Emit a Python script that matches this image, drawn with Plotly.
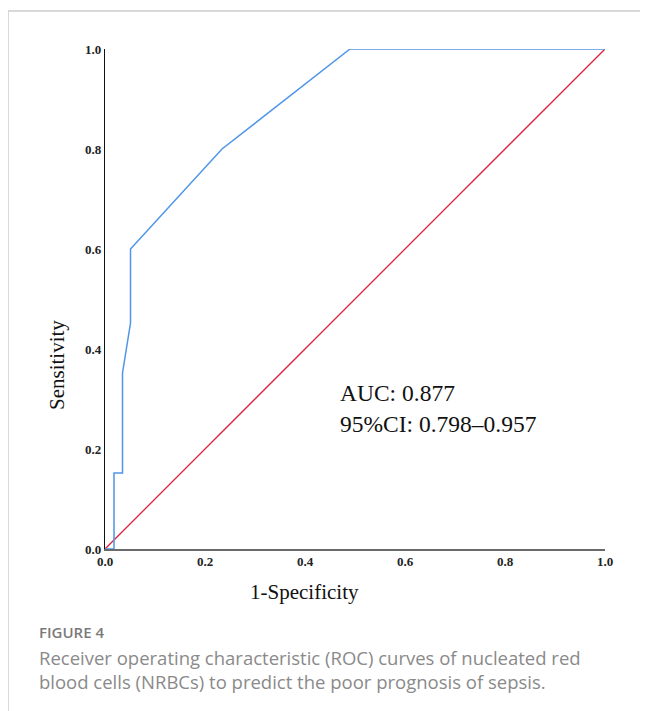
import plotly.graph_objects as go

# ROC curve data
fpr = [0.0, 0.018, 0.018, 0.035, 0.035, 0.051, 0.051, 0.234, 0.49, 1.0]
tpr = [0.0, 0.0, 0.152, 0.152, 0.352, 0.452, 0.60, 0.80, 1.0, 1.0]
ref_x = [0.0, 1.0]
ref_y = [0.0, 1.0]
tick_vals = [0.0, 0.2, 0.4, 0.6, 0.8, 1.0]
tick_text = ["0.0", "0.2", "0.4", "0.6", "0.8", "1.0"]

auc_text = "AUC: 0.877<br>95%CI: 0.798\u20130.957"
x_title = "1-Specificity"
y_title = "Sensitivity"
fig_label = "FIGURE 4"
caption_1 = "Receiver operating characteristic (ROC) curves of nucleated red"
caption_2 = "blood cells (NRBCs) to predict the poor prognosis of sepsis."

# page has an 8px body margin; work in page pixels and convert
OFF = 8
W, H = 648 - OFF, 711 - OFF
PL, PR, PT, PB = 105, 605, 49, 549          # plot area in page pixels
L, R, T, B = PL - OFF, W - (PR - OFF), PT - OFF, H - (PB - OFF)
PW, PH = PR - PL, PB - PT


def px(x):
    return (x - PL) / PW


def py(y):
    return (PB - y) / PH


fig = go.Figure()
fig.add_trace(go.Scatter(x=ref_x, y=ref_y, mode="lines",
                         line=dict(color="#e0213c", width=1.3),
                         hoverinfo="skip", showlegend=False))
fig.add_trace(go.Scatter(x=fpr, y=tpr, mode="lines",
                         line=dict(color="#4f95e8", width=1.5),
                         showlegend=False))

serif = "Liberation Serif, Times New Roman, serif"
sans = "Open Sans, Lato, sans-serif"

fig.update_layout(
    width=W, height=H,
    margin=dict(l=L, r=R, t=T, b=B),
    paper_bgcolor="white", plot_bgcolor="white",
    xaxis=dict(range=[0, 1], tickvals=tick_vals, ticktext=tick_text,
               showgrid=False, zeroline=False, showline=True,
               linecolor="#6a6a6a", linewidth=1.5, ticks="", ticklen=0,
               tickfont=dict(family=serif, size=13, color="#222", weight="bold"),
               fixedrange=True),
    yaxis=dict(range=[0, 1], tickvals=tick_vals, ticktext=tick_text,
               showgrid=False, zeroline=False, showline=True,
               linecolor="#111", linewidth=1.2, ticks="", ticklen=0,
               tickfont=dict(family=serif, size=13, color="#222", weight="bold"),
               fixedrange=True),
    annotations=[
        dict(xref="paper", yref="paper", x=px(338), y=py(408), text=auc_text,
             showarrow=False, xanchor="left", yanchor="middle", align="left",
             font=dict(family=serif, size=23.5, color="#111")),
        dict(xref="paper", yref="paper", x=px(304), y=py(592), text=x_title,
             showarrow=False, xanchor="center", yanchor="middle",
             font=dict(family=serif, size=21, color="#111")),
        dict(xref="paper", yref="paper", x=px(57), y=py(365), text=y_title,
             showarrow=False, xanchor="center", yanchor="middle", textangle=-90,
             font=dict(family=serif, size=21, color="#111")),
        dict(xref="paper", yref="paper", x=px(37), y=py(632), text=fig_label,
             showarrow=False, xanchor="left", yanchor="middle",
             font=dict(family=sans, size=15, color="#7a7a7a", weight=600)),
        dict(xref="paper", yref="paper", x=px(37), y=py(657), text=caption_1,
             showarrow=False, xanchor="left", yanchor="middle",
             font=dict(family=sans, size=18.5, color="#8a8a8a")),
        dict(xref="paper", yref="paper", x=px(37), y=py(681), text=caption_2,
             showarrow=False, xanchor="left", yanchor="middle",
             font=dict(family=sans, size=18.5, color="#8a8a8a")),
    ],
    shapes=[
        dict(type="line", xref="paper", yref="paper",
             x0=px(8), x1=px(8), y0=py(11), y1=py(720),
             line=dict(color="#cccccc", width=1.5)),
        dict(type="line", xref="paper", yref="paper",
             x0=px(8), x1=px(660), y0=py(11), y1=py(11),
             line=dict(color="#cccccc", width=1.5)),
    ],
)

fig.write_html("out.html")
